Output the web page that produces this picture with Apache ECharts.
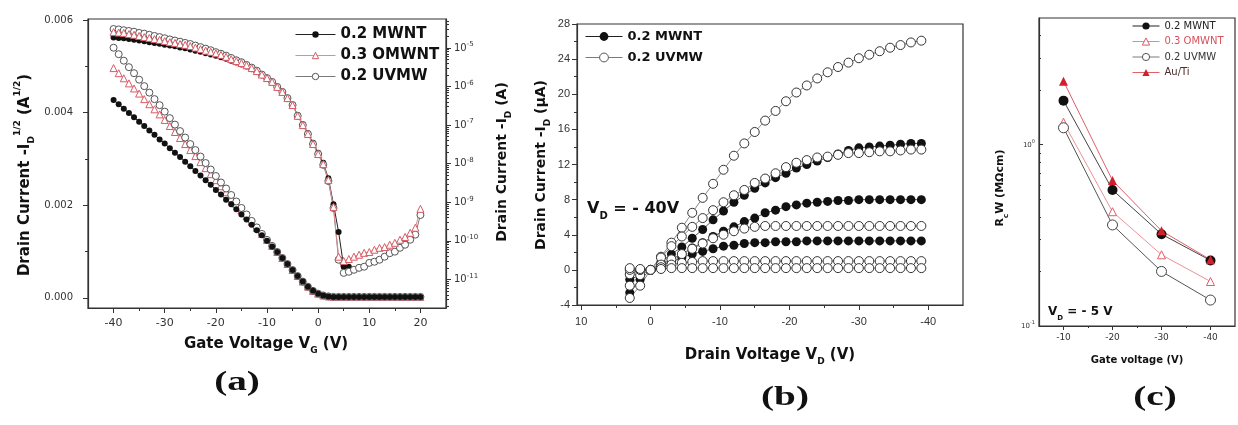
<!DOCTYPE html>
<html>
<head>
<meta charset="utf-8">
<script src="https://cdn.jsdelivr.net/npm/echarts@6.0.0/dist/echarts.min.js"></script>
<style>
html, body { margin: 0; padding: 0; background: #fff; }
#myChart { width: 1238px; height: 425px; }
</style>
</head>
<body>
<div id="myChart"></div>
<script>
var myChart = echarts.init(document.getElementById('myChart'));
var FONT = 'DejaVu Sans';

// (a) transfer curves, gate voltage sweep
var vgA = [-40,-39,-38,-37,-36,-35,-34,-33,-32,-31,-30,-29,-28,-27,-26,-25,-24,-23,-22,-21,
    -20,-19,-18,-17,-16,-15,-14,-13,-12,-11,-10,-9,-8,-7,-6,-5,-4,-3,-2,-1,
    0,1,2,3,4,5,6,7,8,9,10,11,12,13,14,15,16,17,18,19,20];

// sqrt(-Id), left axis (A^1/2)
var mwntSqrt = [0.00427,0.00418,0.00408,0.00399,0.00390,0.00380,0.00371,0.00361,0.00352,0.00342,
    0.00333,0.00323,0.00313,0.00304,0.00294,0.00284,0.00274,0.00264,0.00254,0.00244,
    0.00233,0.00223,0.00212,0.00202,0.00191,0.00180,0.00169,0.00158,0.00146,0.00135,
    0.00123,0.00111,0.00099,0.00086,0.00073,0.00060,0.00047,0.00035,0.00024,0.00015,
    0.00009,0.00005,0.00003,0.00002,0.00002,0.00002,0.00002,0.00002,0.00002,0.00002,
    0.00002,0.00002,0.00002,0.00002,0.00002,0.00002,0.00002,0.00002,0.00002,0.00002,0.00002];
var omwntSqrt = [0.00496,0.00485,0.00474,0.00463,0.00452,0.00441,0.00429,0.00418,0.00407,0.00396,
    0.00384,0.00371,0.00358,0.00345,0.00332,0.00319,0.00306,0.00293,0.00280,0.00267,
    0.00254,0.00241,0.00228,0.00215,0.00202,0.00189,0.00177,0.00164,0.00151,0.00138,
    0.00125,0.00112,0.00099,0.00086,0.00073,0.00060,0.00047,0.00035,0.00024,0.00015,
    0.00009,0.00005,0.00003,0.00002,0.00002,0.00002,0.00002,0.00002,0.00002,0.00002,
    0.00002,0.00002,0.00002,0.00002,0.00002,0.00002,0.00002,0.00002,0.00002,0.00002,0.00002];
var uvmwSqrt = [0.00540,0.00526,0.00512,0.00498,0.00485,0.00471,0.00457,0.00443,0.00429,0.00416,
    0.00402,0.00388,0.00374,0.00360,0.00346,0.00332,0.00319,0.00305,0.00291,0.00277,
    0.00263,0.00249,0.00236,0.00222,0.00208,0.00194,0.00180,0.00166,0.00152,0.00138,
    0.00125,0.00112,0.00099,0.00086,0.00073,0.00060,0.00047,0.00035,0.00024,0.00015,
    0.00009,0.00005,0.00003,0.00002,0.00002,0.00002,0.00002,0.00002,0.00002,0.00002,
    0.00002,0.00002,0.00002,0.00002,0.00002,0.00002,0.00002,0.00002,0.00002,0.00002,0.00002];

// -Id, right log axis (A)
var mwntLog = [1.86e-5,1.82e-5,1.78e-5,1.70e-5,1.62e-5,1.55e-5,1.48e-5,1.41e-5,1.35e-5,1.29e-5,
    1.20e-5,1.15e-5,1.10e-5,1.02e-5,9.77e-6,9.12e-6,8.51e-6,7.94e-6,7.24e-6,6.76e-6,
    6.31e-6,5.75e-6,5.25e-6,4.68e-6,4.17e-6,3.72e-6,3.31e-6,2.82e-6,2.40e-6,2.00e-6,
    1.66e-6,1.32e-6,1.00e-6,7.41e-7,5.13e-7,3.39e-7,1.82e-7,1.05e-7,6.17e-8,3.47e-8,
    1.91e-8,1.05e-8,4.17e-9,8.91e-10,1.70e-10,2.14e-11,2.14e-11,null,null,null,
    null,null,null,null,null,null,null,null,null,null,null];
var omwntLog = [2.57e-5,2.51e-5,2.45e-5,2.29e-5,2.19e-5,2.04e-5,1.91e-5,1.82e-5,1.70e-5,1.62e-5,
    1.51e-5,1.41e-5,1.35e-5,1.26e-5,1.20e-5,1.12e-5,1.02e-5,9.33e-6,8.51e-6,7.94e-6,
    7.24e-6,6.61e-6,5.89e-6,5.13e-6,4.57e-6,4.07e-6,3.55e-6,3.02e-6,2.51e-6,2.04e-6,
    1.66e-6,1.32e-6,9.77e-7,7.24e-7,5.01e-7,3.31e-7,1.74e-7,1.00e-7,5.89e-8,3.24e-8,
    1.78e-8,9.77e-9,3.80e-9,7.59e-10,3.89e-11,3.02e-11,3.39e-11,3.89e-11,4.37e-11,4.90e-11,
    5.13e-11,5.89e-11,6.61e-11,6.92e-11,7.94e-11,8.91e-11,1.07e-10,1.26e-10,1.62e-10,2.19e-10,6.76e-10];
var uvmwLog = [3.09e-5,3.02e-5,2.88e-5,2.75e-5,2.63e-5,2.45e-5,2.34e-5,2.19e-5,2.04e-5,1.91e-5,
    1.78e-5,1.66e-5,1.55e-5,1.45e-5,1.35e-5,1.26e-5,1.15e-5,1.05e-5,9.55e-6,8.71e-6,
    7.76e-6,7.08e-6,6.31e-6,5.50e-6,4.79e-6,4.27e-6,3.63e-6,3.09e-6,2.57e-6,2.04e-6,
    1.66e-6,1.32e-6,9.77e-7,7.24e-7,5.01e-7,3.31e-7,1.74e-7,1.00e-7,5.89e-8,3.24e-8,
    1.78e-8,9.33e-9,3.55e-9,7.08e-10,3.24e-11,1.48e-11,1.58e-11,1.78e-11,2.00e-11,2.14e-11,
    2.69e-11,2.88e-11,3.24e-11,3.89e-11,4.79e-11,5.25e-11,6.61e-11,7.94e-11,1.07e-10,1.45e-10,4.68e-10];

// (b) output curves, drain voltage sweep (uA)
var vdB = [3,1.5,0,-1.5,-3,-4.5,-6,-7.5,-9,-10.5,-12,-13.5,-15,-16.5,-18,-19.5,-21,-22.5,-24,-25.5,
    -27,-28.5,-30,-31.5,-33,-34.5,-36,-37.5,-39];
var mwntB1 = [-2.6,-1.1,0,0.9,1.8,2.6,3.6,4.6,5.7,6.7,7.7,8.5,9.3,9.9,10.5,11.0,11.6,12.0,12.4,12.8,
    13.2,13.6,13.9,14.0,14.1,14.2,14.3,14.4,14.4];
var mwntB2 = [-1.1,-0.6,0,0.6,1.2,1.8,2.5,3.1,3.8,4.4,4.9,5.5,5.9,6.5,6.8,7.2,7.4,7.6,7.7,7.8,
    7.9,7.9,8.0,8.0,8.0,8.0,8.0,8.0,8.0];
var mwntB3 = [-0.5,0,0,0.5,0.9,1.4,1.8,2.1,2.4,2.7,2.8,3.0,3.1,3.1,3.2,3.2,3.2,3.3,3.3,3.3,
    3.3,3.3,3.3,3.3,3.3,3.3,3.3,3.3,3.3];
var uvmwB1 = [-3.2,-1.8,0,1.5,3.1,4.8,6.5,8.2,9.8,11.4,13.0,14.4,15.7,17.0,18.1,19.2,20.2,21.0,21.8,22.5,
    23.1,23.6,24.1,24.5,24.9,25.3,25.6,25.9,26.1];
var uvmwB2 = [-1.8,-0.6,0,1.4,2.7,3.8,4.9,5.9,6.8,7.7,8.5,9.1,9.9,10.4,11.0,11.7,12.2,12.5,12.8,12.9,
    13.1,13.3,13.3,13.4,13.5,13.5,13.6,13.7,13.7];
var uvmwB3 = [-0.5,0,0,0.6,1.2,1.8,2.4,3.0,3.6,4.0,4.4,4.7,4.9,5.0,5.0,5.0,5.0,5.0,5.0,5.0,
    5.0,5.0,5.0,5.0,5.0,5.0,5.0,5.0,5.0];
var uvmwB4 = [0,0,0,0.3,0.6,0.8,0.9,1.0,1.0,1.0,1.0,1.0,1.0,1.0,1.0,1.0,1.0,1.0,1.0,1.0,
    1.0,1.0,1.0,1.0,1.0,1.0,1.0,1.0,1.0];
var uvmwB5 = [0.2,0.1,0,0.1,0.2,0.2,0.2,0.2,0.2,0.2,0.2,0.2,0.2,0.2,0.2,0.2,0.2,0.2,0.2,0.2,
    0.2,0.2,0.2,0.2,0.2,0.2,0.2,0.2,0.2];

// (c) contact resistance (MOhm cm)
var vgC = [-10,-20,-30,-40];
var rcMWNT = [1.75,0.563,0.321,0.230];
var rcOMWNT = [1.33,0.427,0.247,0.176];
var rcUVMW = [1.24,0.361,0.200,0.139];
var rcAuTi = [2.24,0.635,0.335,0.232];

// tick values
var ticksAX = [-40,-30,-20,-10,0,10,20];
var minorAX = [-35,-25,-15,-5,5,15];
var ticksAY = [0,0.002,0.004,0.006];
var minorAY = [0.001,0.003,0.005];
var ticksAR = [1e-11,1e-10,1e-9,1e-8,1e-7,1e-6,1e-5];
var ticksBX = [-40,-30,-20,-10,0,10];
var minorBX = [-35,-25,-15,-5,5];
var ticksCX = [-40,-30,-20,-10];
var minorCX = [-35,-25,-15];
var ticksCY = [0.1,1];

function logMinor(e0, e1, lo, hi) {
    var out = [];
    for (var e = e0; e <= e1; e++) {
        for (var k = 2; k <= 9; k++) {
            var v = k * Math.pow(10, e);
            if (v > lo && v < hi) out.push(v);
        }
    }
    return out;
}

var pair = function (xs, ys) {
    return xs.map(function (x, i) { return [x, ys[i]]; });
};

var axisColor = '#333';

function minorAxis(grid, type, min, max, vals, len, pos, inverse, inside) {
    return {
        type: type, gridIndex: grid, min: min, max: max, inverse: !!inverse, position: pos,
        axisLine: {show: false, onZero: false},
        splitLine: {show: false},
        axisLabel: {show: false},
        axisTick: {show: true, inside: !!inside, length: len, customValues: vals,
            lineStyle: {color: axisColor, width: 1}}
    };
}

function richText(size) {
    var small = Math.round(size * 0.62);
    return {
        t: {fontFamily: FONT, fontWeight: 'bold', fontSize: size, lineHeight: size + 8},
        sub: {fontFamily: FONT, fontWeight: 'bold', fontSize: small, lineHeight: small + 2, verticalAlign: 'bottom'},
        sup: {fontFamily: FONT, fontWeight: 'bold', fontSize: small, lineHeight: small + 2, verticalAlign: 'top'}
    };
}

function label(x, y, size, text, rotate, align) {
    return {
        type: 'text', x: x, y: y, z: 10, rotation: rotate ? Math.PI / 2 : 0,
        style: {text: text, rich: richText(size), fill: '#111',
            align: align || 'center', verticalAlign: 'middle'}
    };
}

function panelTag(x, y, text) {
    return {
        type: 'text', x: x, y: y, z: 10, scaleX: 1.4,
        style: {text: text, fontFamily: 'Liberation Serif', fontWeight: 'bold', fontSize: 28,
            fill: '#111', align: 'center', verticalAlign: 'middle'}
    };
}

var powLabel = function (big, small) {
    return {
        formatter: function (v) {
            return '{b|10}{s|' + Math.round(Math.log10(v)) + '}';
        },
        rich: {
            b: {fontFamily: FONT, fontSize: big, color: '#333', lineHeight: big + 4},
            s: {fontFamily: FONT, fontSize: small, color: '#333', lineHeight: small + 1, verticalAlign: 'top'}
        }
    };
};

var red = '#d85c66', redLine = '#e58890', grayLine = '#7a7a7a';

function openStyle(color) {
    return {color: '#fff', borderColor: color, borderWidth: 1};
}

var logMinA = 1.82e-12, logMaxA = 5.62e-5;

option = {
    animation: false,
    backgroundColor: '#fff',
    grid: [
        {left: 88, top: 19, width: 358, height: 289, show: true, borderColor: axisColor, borderWidth: 1.2},
        {left: 577, top: 24, width: 386, height: 281, show: true, borderColor: axisColor, borderWidth: 1.2},
        {left: 1039, top: 18, width: 196, height: 308, show: true, borderColor: axisColor, borderWidth: 1.2}
    ],
    xAxis: [
        {
            type: 'value', gridIndex: 0, min: -45, max: 25, position: 'bottom',
            axisLine: {onZero: false, lineStyle: {color: axisColor, width: 1.2}},
            splitLine: {show: false},
            axisTick: {customValues: ticksAX, length: 5, lineStyle: {color: axisColor}},
            axisLabel: {customValues: ticksAX, margin: 10, fontFamily: FONT, fontSize: 11, color: '#333'}
        },
        minorAxis(0, 'value', -45, 25, minorAX, 3, 'bottom'),
        {
            type: 'value', gridIndex: 1, min: -45, max: 10.6, inverse: true, position: 'bottom',
            axisLine: {onZero: false, lineStyle: {color: axisColor, width: 1.2}},
            splitLine: {show: false},
            axisTick: {customValues: ticksBX, length: 5, lineStyle: {color: axisColor}},
            axisLabel: {customValues: ticksBX, margin: 11, fontFamily: 'Liberation Sans', fontSize: 11, color: '#333'}
        },
        minorAxis(1, 'value', -45, 10.6, minorBX, 3, 'bottom', true),
        {
            type: 'value', gridIndex: 2, min: -45, max: -5, inverse: true, position: 'bottom',
            axisLine: {onZero: false, lineStyle: {color: axisColor, width: 1.2}},
            splitLine: {show: false},
            axisTick: {customValues: ticksCX, length: 4, lineStyle: {color: axisColor}},
            axisLabel: {customValues: ticksCX, margin: 7, fontFamily: FONT, fontSize: 9, color: '#333'}
        },
        minorAxis(2, 'value', -45, -5, minorCX, 2, 'bottom', true)
    ],
    yAxis: [
        {
            type: 'value', gridIndex: 0, min: -0.00022, max: 0.00602, position: 'left',
            axisLine: {onZero: false, lineStyle: {color: axisColor, width: 1.2}},
            splitLine: {show: false},
            axisTick: {customValues: ticksAY, length: 5, lineStyle: {color: axisColor}},
            axisLabel: {customValues: ticksAY, margin: 15, fontFamily: FONT, fontSize: 10, color: '#333',
                formatter: function (v) { return v.toFixed(3); }}
        },
        minorAxis(0, 'value', -0.00022, 0.00602, minorAY, 3, 'left'),
        {
            type: 'log', gridIndex: 0, min: logMinA, max: logMaxA, position: 'right',
            axisLine: {onZero: false, lineStyle: {color: axisColor, width: 1.2}},
            splitLine: {show: false},
            axisTick: {customValues: ticksAR, length: 5, lineStyle: {color: axisColor}},
            axisLabel: Object.assign({customValues: ticksAR, margin: 8}, powLabel(10, 7))
        },
        minorAxis(0, 'log', logMinA, logMaxA, logMinor(-12, -5, logMinA, logMaxA), 3, 'right'),
        {
            type: 'value', gridIndex: 1, min: -4, max: 28, interval: 4, position: 'left',
            axisLine: {onZero: false, lineStyle: {color: axisColor, width: 1.2}},
            splitLine: {show: false},
            axisTick: {length: 5, lineStyle: {color: axisColor}},
            minorTick: {show: true, splitNumber: 2, length: 3, lineStyle: {color: axisColor}},
            axisLabel: {margin: 7, fontFamily: 'Liberation Sans', fontSize: 11, color: '#333'}
        },
        {
            type: 'log', gridIndex: 2, min: 0.1, max: 5, position: 'left',
            axisLine: {onZero: false, lineStyle: {color: axisColor, width: 1.2}},
            splitLine: {show: false},
            axisTick: {customValues: ticksCY, inside: true, length: 4, lineStyle: {color: axisColor}},
            axisLabel: Object.assign({customValues: ticksCY, margin: 4}, powLabel(7, 5))
        },
        minorAxis(2, 'log', 0.1, 5, logMinor(-1, 0, 0.1, 5), 2, 'left', false, true)
    ],
    legend: [
        {
            data: ['0.2 MWNT', '0.3 OMWNT', '0.2 UVMW'], orient: 'vertical', left: 295, top: 27,
            itemWidth: 40, itemHeight: 8, itemGap: 6, padding: 0, selectedMode: false,
            itemStyle: {borderWidth: 1}, lineStyle: {width: 1},
            textStyle: {fontFamily: FONT, fontWeight: 'bold', fontSize: 15, color: '#111'}
        },
        {
            data: ['0.2 MWNT', '0.2 UVMW'], orient: 'vertical', left: 585, top: 30,
            itemWidth: 37, itemHeight: 11, itemGap: 8, padding: 0, selectedMode: false,
            itemStyle: {borderWidth: 1}, lineStyle: {width: 1},
            textStyle: {fontFamily: FONT, fontWeight: 'bold', fontSize: 13, color: '#111'}
        },
        {
            data: [
                {name: '0.2 MWNT', textStyle: {color: '#222'}},
                {name: '0.3 OMWNT', textStyle: {color: '#d9505a'}},
                {name: '0.2 UVMW', textStyle: {color: '#333'}},
                {name: 'Au/Ti', textStyle: {color: '#4a2a2a'}}
            ],
            orient: 'vertical', left: 1132, top: 21,
            itemWidth: 27, itemHeight: 9, itemGap: 5.5, padding: 0, selectedMode: false,
            itemStyle: {borderWidth: 1}, lineStyle: {width: 1},
            textStyle: {fontFamily: FONT, fontSize: 10}
        }
    ],
    graphic: [
        label(25, 175, 15, '{t|Drain Current -I}{sub|D}{sup|1/2}{t| (A}{sup|1/2}{t|)}', true),
        label(502, 162, 14, '{t|Drain Current -I}{sub|D}{t| (A)}', true),
        label(266, 344, 15, '{t|Gate Voltage V}{sub|G}{t| (V)}'),
        panelTag(237, 383, '(a)'),
        label(541, 165, 14, '{t|Drain Current -I}{sub|D}{t| (\u00b5A)}', true),
        label(770, 355, 15, '{t|Drain Voltage V}{sub|D}{t| (V)}'),
        label(587, 209, 16, '{t|V}{sub|D}{t| = - 40V}', false, 'left'),
        panelTag(785, 398, '(b)'),
        label(1000, 188, 11, '{t|R}{sub|c}{t|W (M\u03a9cm)}', true),
        label(1137, 360, 10, '{t|Gate voltage (V)}'),
        label(1048, 312, 12, '{t|V}{sub|D}{t| = - 5 V}', false, 'left'),
        panelTag(1155, 398, '(c)')
    ],
    series: [
        // (a) log curves, right axis
        {name: '0.2 MWNT', type: 'line', xAxisIndex: 0, yAxisIndex: 2, data: pair(vgA, mwntLog),
            symbol: 'circle', symbolSize: 6, itemStyle: {color: '#111'}, lineStyle: {color: '#222', width: 1}},
        {name: '0.2 UVMW', type: 'line', xAxisIndex: 0, yAxisIndex: 2, data: pair(vgA, uvmwLog),
            symbol: 'circle', symbolSize: 7, itemStyle: openStyle('#555'), lineStyle: {color: grayLine, width: 1}},
        {name: '0.3 OMWNT', type: 'line', xAxisIndex: 0, yAxisIndex: 2, data: pair(vgA, omwntLog),
            symbol: 'triangle', symbolSize: 7, itemStyle: openStyle(red), lineStyle: {color: redLine, width: 1}},
        // (a) sqrt curves, left axis
        {name: '0.3 OMWNT', type: 'line', xAxisIndex: 0, yAxisIndex: 0, data: pair(vgA, omwntSqrt),
            symbol: 'triangle', symbolSize: 7, itemStyle: openStyle(red), lineStyle: {color: redLine, width: 1}},
        {name: '0.2 UVMW', type: 'line', xAxisIndex: 0, yAxisIndex: 0, data: pair(vgA, uvmwSqrt),
            symbol: 'circle', symbolSize: 7, itemStyle: openStyle('#555'), lineStyle: {color: grayLine, width: 1}},
        {name: '0.2 MWNT', type: 'line', xAxisIndex: 0, yAxisIndex: 0, data: pair(vgA, mwntSqrt),
            symbol: 'circle', symbolSize: 6, itemStyle: {color: '#111'}, lineStyle: {color: '#222', width: 1}},
        // (b)
        {name: '0.2 MWNT', type: 'line', xAxisIndex: 2, yAxisIndex: 4, data: pair(vdB, mwntB1),
            symbol: 'circle', symbolSize: 9, itemStyle: {color: '#111'}, lineStyle: {color: '#555', width: 1}},
        {name: '0.2 MWNT', type: 'line', xAxisIndex: 2, yAxisIndex: 4, data: pair(vdB, mwntB2),
            symbol: 'circle', symbolSize: 9, itemStyle: {color: '#111'}, lineStyle: {color: '#555', width: 1}},
        {name: '0.2 MWNT', type: 'line', xAxisIndex: 2, yAxisIndex: 4, data: pair(vdB, mwntB3),
            symbol: 'circle', symbolSize: 9, itemStyle: {color: '#111'}, lineStyle: {color: '#555', width: 1}},
        {name: '0.2 UVMW', type: 'line', xAxisIndex: 2, yAxisIndex: 4, data: pair(vdB, uvmwB1),
            symbol: 'circle', symbolSize: 9, itemStyle: openStyle('#333'), lineStyle: {color: '#888', width: 1}},
        {name: '0.2 UVMW', type: 'line', xAxisIndex: 2, yAxisIndex: 4, data: pair(vdB, uvmwB2),
            symbol: 'circle', symbolSize: 9, itemStyle: openStyle('#333'), lineStyle: {color: '#888', width: 1}},
        {name: '0.2 UVMW', type: 'line', xAxisIndex: 2, yAxisIndex: 4, data: pair(vdB, uvmwB3),
            symbol: 'circle', symbolSize: 9, itemStyle: openStyle('#333'), lineStyle: {color: '#888', width: 1}},
        {name: '0.2 UVMW', type: 'line', xAxisIndex: 2, yAxisIndex: 4, data: pair(vdB, uvmwB4),
            symbol: 'circle', symbolSize: 9, itemStyle: openStyle('#333'), lineStyle: {color: '#888', width: 1}},
        {name: '0.2 UVMW', type: 'line', xAxisIndex: 2, yAxisIndex: 4, data: pair(vdB, uvmwB5),
            symbol: 'circle', symbolSize: 9, itemStyle: openStyle('#333'), lineStyle: {color: '#888', width: 1}},
        // (c)
        {name: '0.2 MWNT', type: 'line', xAxisIndex: 4, yAxisIndex: 5, data: pair(vgC, rcMWNT),
            symbol: 'circle', symbolSize: 10, itemStyle: {color: '#111'}, lineStyle: {color: '#444', width: 1}},
        {name: '0.3 OMWNT', type: 'line', xAxisIndex: 4, yAxisIndex: 5, data: pair(vgC, rcOMWNT),
            symbol: 'triangle', symbolSize: 8, itemStyle: openStyle('#e0606a'), lineStyle: {color: '#eb9298', width: 1}},
        {name: '0.2 UVMW', type: 'line', xAxisIndex: 4, yAxisIndex: 5, data: pair(vgC, rcUVMW),
            symbol: 'circle', symbolSize: 10, itemStyle: openStyle('#444'), lineStyle: {color: '#555', width: 1}},
        {name: 'Au/Ti', type: 'line', xAxisIndex: 4, yAxisIndex: 5, data: pair(vgC, rcAuTi),
            symbol: 'triangle', symbolSize: 9, itemStyle: {color: '#d21f2b'}, lineStyle: {color: '#e0606a', width: 1}}
    ]
};

myChart.setOption(option);
</script>
</body>
</html>
